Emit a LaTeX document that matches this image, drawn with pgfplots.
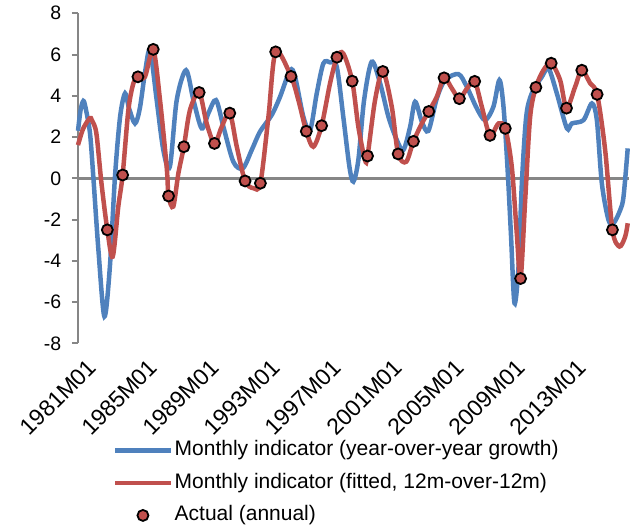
\documentclass[border=0pt]{standalone}
\usepackage{fontspec}
\setmainfont{Liberation Sans}
\usepackage{pgfplots}
\pgfplotsset{compat=1.18}
\definecolor{sblue}{HTML}{4F81BD}
\definecolor{sred}{HTML}{C0504D}
\definecolor{axgray}{HTML}{868686}
\begin{document}
\begin{tikzpicture}
\begin{axis}[
  at={(0pt,0pt)}, anchor=south west,
  scale only axis, width=551pt, height=330pt,
  xmin=0, xmax=432, ymin=-8, ymax=8,
  axis x line*=bottom, axis y line*=left,
  x axis line style={draw=none},
  y axis line style={draw=axgray, line width=2.5pt},
  xtick={0,48,96,144,192,240,288,336,384},
  xticklabels={1981M01,1985M01,1989M01,1993M01,1997M01,2001M01,2005M01,2009M01,2013M01},
  xtick style={draw=none},
  xticklabel style={xshift=8.4pt, yshift=-8.1pt, rotate=45, anchor=north east, inner sep=0pt, font=\fontsize{23}{27}\selectfont},
  ytick={-8,-6,-4,-2,0,2,4,6,8},
  yticklabels={-8,-6,-4,-2,0,2,4,6,8},
  ytick style={draw=axgray, line width=2pt},
  tick align=outside, major tick length=6pt,
  yticklabel style={font=\fontsize{19.5}{23}\selectfont, anchor=east, inner sep=0pt, xshift=-10.7pt},
  clip=false,
  legend image code/.code={\draw[mark repeat=2,mark phase=2,#1] plot coordinates {(0pt,0pt) (27.5pt,0pt) (55pt,0pt)};},
  legend cell align=left,
  legend style={at={(0.0635,-0.2945)}, anchor=north west, draw=none, fill=none, inner sep=0pt, row sep=13pt, column sep=2pt, font=\fontsize{21}{25}\selectfont, nodes={inner sep=0pt, text height=15pt, text depth=4.5pt}},
]
\addplot[axgray, line width=2.5pt, forget plot] coordinates {(0,0) (432,0)};
\addplot[sblue, line width=4.5pt, smooth, tension=0.5] coordinates {
(0,2.3) (2,3.3) (4.2,3.75) (6,3.4) (9.4,2.19) (12,0.08) (16,-3.47) (20.7,-6.7) (25,-4.28) (29,0.08) (33,2.98) (36.9,4.12) (40,3.4) (44.7,2.66) (48.5,3.4) (52.7,5.2) (56.5,6.21) (61.7,3.79) (66.9,1.37) (72,0.56) (77.4,3.79) (84.7,5.24) (90.5,3.79) (97,2.42) (102.2,3.15) (108.2,3.79) (114,2.5) (121.8,0.8) (129.2,0.48) (136.2,1.37) (142.7,2.26) (151.9,3.07) (158.4,3.95) (166.3,5.24) (170.2,4.92) (176.7,2.98) (182,2.34) (187.2,4.12) (192.4,5.57) (197.6,5.62) (202.9,5.4) (208,2.98) (212.8,0.56) (215.9,-0.16) (219.8,0.89) (224.3,3.79) (230.3,5.65) (236.9,4.6) (243.4,2.98) (250,1.85) (255.1,1.37) (260.4,2.5) (264.3,3.71) (269.6,2.74) (274.7,2.3) (281.3,3.87) (287.8,4.76) (298.3,5.05) (304.8,4.44) (312.7,3.39) (319.2,2.82) (325.7,3.47) (330.4,4.76) (333.6,3.47) (336.7,0.56) (339.4,-2.66) (342.2,-6.05) (345.4,-4.28) (348,-0.24) (351.4,2.98) (355.8,4.12) (363.7,4.92) (368.9,5.33) (375.4,4.12) (383.3,2.42) (387.2,2.66) (396.3,2.82) (402.9,3.63) (406.8,2.82) (410.7,-0.24) (415.9,-2.02) (419.9,-2.18) (425.1,-1.54) (427.7,-0.89) (431,1.45)
};
\addlegendentry{Monthly indicator (year-over-year growth)}
\addplot[sred, line width=4.5pt, smooth, tension=0.5] coordinates {
(0,1.61) (4,2.4) (9.2,2.91) (11,2.8) (14.4,2.18) (18.4,-0.24) (23,-2.5) (27.2,-3.8) (31.6,-1.37) (35,0.16) (39.5,3.31) (43.4,4.6) (47,4.92) (52.5,4.92) (59,6.25) (64.3,3.79) (69.5,0.56) (71,-0.86) (74.7,-1.37) (78.7,0.24) (83,1.53) (87.8,3.31) (95,4.16) (100.9,2.66) (107,1.69) (112.7,2.5) (119,3.16) (124.5,1.53) (131,-0.13) (137.5,-0.48) (143,-0.24) (149.3,2.98) (155,6.13) (167,4.94) (172.8,3.79) (179,2.28) (184.5,1.53) (191,2.55) (197.6,4.6) (203,5.87) (208,6.05) (215,4.71) (219.8,2.5) (225,0.89) (227,1.08) (232.9,3.79) (239,5.18) (246,3.47) (251,1.18) (257.3,0.8) (263,1.79) (269.6,2.66) (275,3.24) (281.3,3.95) (287,4.87) (293.1,4.36) (299,3.86) (305,4.36) (311,4.7) (316.6,3.47) (323,2.08) (329.7,2.66) (335,2.42) (340.1,0.56) (344,-2.66) (347,-4.86) (350.6,-1.05) (354.5,2.98) (359,4.41) (364.9,5.24) (371,5.58) (378,4.76) (383,3.4) (389.8,4.44) (395,5.24) (401.6,4.6) (407,4.07) (413.3,1.37) (419,-2.5) (424.5,-3.31) (429,-2.83) (431,-2.18)
};
\addlegendentry{Monthly indicator (fitted, 12m-over-12m)}
\addplot[only marks, mark=*, mark size=5.5pt, mark options={fill=sred, draw=black, line width=1.8pt}] coordinates {
(23,-2.5) (35,0.16) (47,4.92) (59,6.25) (71,-0.86) (83,1.53) (95,4.16) (107,1.69) (119,3.16) (131,-0.13) (143,-0.24) (155,6.13) (167,4.94) (179,2.28) (191,2.55) (203,5.87) (215,4.71) (227,1.08) (239,5.18) (251,1.18) (263,1.79) (275,3.24) (287,4.87) (299,3.86) (311,4.7) (323,2.08) (335,2.42) (347,-4.86) (359,4.41) (371,5.58) (383,3.4) (395,5.24) (407,4.07) (419,-2.5)
};
\addlegendentry{Actual (annual)}
\end{axis}
\pgfresetboundingbox
\useasboundingbox (-78pt,-182.7pt) rectangle (562pt,343.3pt);
\end{tikzpicture}
\end{document}
